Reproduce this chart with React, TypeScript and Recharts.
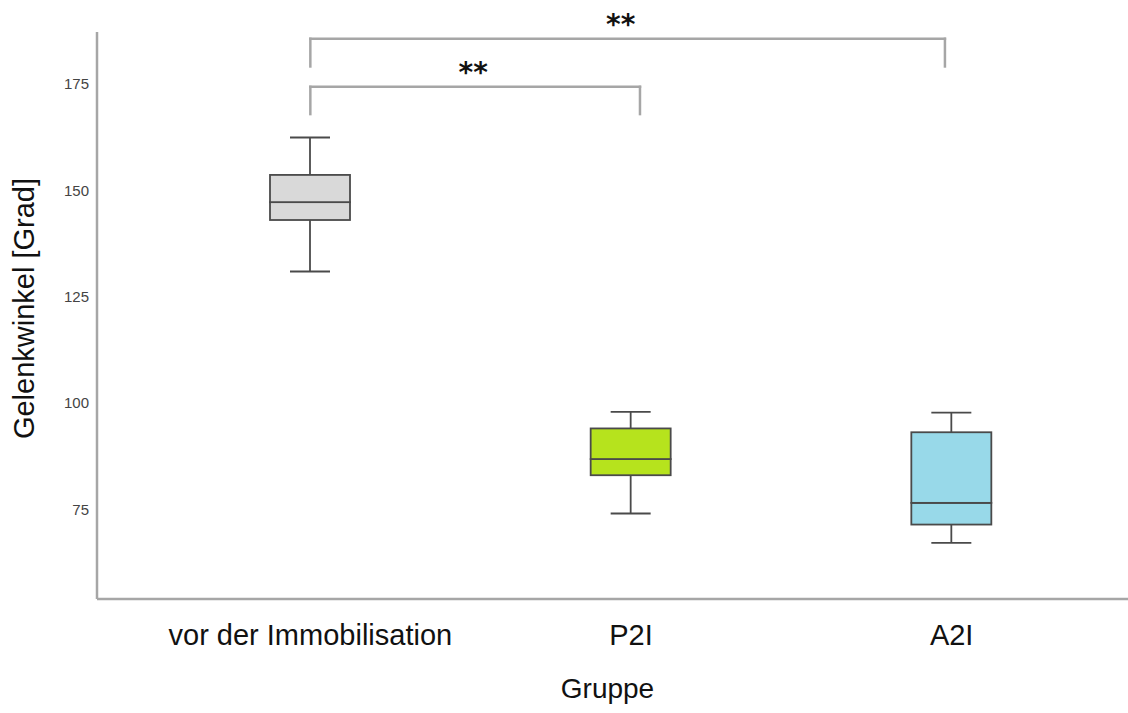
import { Bar, ComposedChart, ReferenceLine, XAxis, YAxis } from "recharts";

const groups = ["vor der Immobilisation", "P2I", "A2I"];
const minimum = [130.9, 74.0, 67.1];
const lowerQuartile = [143.0, 83.0, 71.4];
const median = [147.2, 86.8, 76.5];
const upperQuartile = [153.6, 94.0, 93.1];
const maximum = [162.4, 97.9, 97.7];
const yTicks = [75, 100, 125, 150, 175];

const fills = ["#d9d9d9", "#b6e31d", "#98d9e9"];

// significance brackets, x in group index units, y in degrees
const brackets = [
  { from: 0, to: 1.979, top: 185.6, foot: 179.1, text: "**", dx: -7 },
  { from: 0, to: 1.028, top: 174.3, foot: 167.9, text: "**", dx: -2 },
];

const rows = groups.map((name, i) => ({
  name,
  idx: i,
  base: minimum[i],
  lowWhisker: lowerQuartile[i] - minimum[i],
  lowBox: median[i] - lowerQuartile[i],
  highBox: upperQuartile[i] - median[i],
  highWhisker: maximum[i] - upperQuartile[i],
  fill: fills[i],
}));

const ink = "#4a4a4a";
const grey = "#a6a6a6";
const font = "'Liberation Sans', Arial, sans-serif";

const whisker = (capAtTop: boolean) => (props: any) => {
  const { x, y, width, height } = props;
  const cx = x + width / 2;
  const capY = capAtTop ? y : y + height;
  return (
    <g stroke={ink} strokeWidth={1.8}>
      <line x1={cx} x2={cx} y1={y} y2={y + height} />
      <line x1={cx - 20} x2={cx + 20} y1={capY} y2={capY} />
    </g>
  );
};

const boxHalf = (props: any) => {
  const { x, y, width, height, payload } = props;
  return <rect x={x} y={y} width={width} height={height} fill={payload.fill} stroke={ink} strokeWidth={1.8} />;
};

export default function App() {
  return (
    <div style={{ position: "absolute", left: 0, top: 0 }}>
      <ComposedChart width={1128} height={713} data={rows} margin={{ top: 32, right: 0, bottom: 0, left: 0 }}>
        <XAxis
          dataKey="name"
          height={114}
          padding={{ left: 53, right: 16 }}
          axisLine={{ stroke: grey, strokeWidth: 2.5 }}
          tickLine={false}
          tickMargin={19}
          tick={{ fontSize: 29, fill: "#111", fontFamily: font }}
          label={{ value: "Gruppe", position: "insideBottom", offset: 15, dx: -5, fontSize: 28, fill: "#111", fontFamily: font }}
        />
        <XAxis xAxisId="pos" dataKey="idx" type="number" domain={[-0.6653, 2.5499]} allowDataOverflow hide />
        <YAxis
          width={97}
          domain={[53.9, 187.2]}
          allowDataOverflow
          ticks={yTicks}
          axisLine={{ stroke: grey, strokeWidth: 2.5 }}
          tickLine={false}
          tick={{ fontSize: 15, fill: "#444", fontFamily: font }}
          label={{ value: "Gelenkwinkel [Grad]", angle: -90, position: "center", dx: -25, dy: -7, fontSize: 29, fill: "#111", fontFamily: font }}
        />
        <Bar dataKey="base" stackId="box" barSize={80} shape={() => <g />} isAnimationActive={false} />
        <Bar dataKey="lowWhisker" stackId="box" barSize={80} shape={whisker(false)} isAnimationActive={false} />
        <Bar dataKey="lowBox" stackId="box" barSize={80} shape={boxHalf} isAnimationActive={false} />
        <Bar dataKey="highBox" stackId="box" barSize={80} shape={boxHalf} isAnimationActive={false} />
        <Bar dataKey="highWhisker" stackId="box" barSize={80} shape={whisker(true)} isAnimationActive={false} />
        {brackets.map((b) => [
          <ReferenceLine
            key={b.top + "h"}
            xAxisId="pos"
            segment={[{ x: b.from, y: b.top }, { x: b.to, y: b.top }]}
            stroke={grey}
            strokeWidth={2.5}
            strokeLinecap="square"
            label={{ value: b.text, position: "top", offset: 5, dx: b.dx, fontSize: 28, fontWeight: "bold", fill: "#111", fontFamily: "'DejaVu Sans', sans-serif" }}
          />,
          <ReferenceLine
            key={b.top + "l"}
            xAxisId="pos"
            segment={[{ x: b.from, y: b.top }, { x: b.from, y: b.foot }]}
            stroke={grey}
            strokeWidth={2.5}
            strokeLinecap="square"
          />,
          <ReferenceLine
            key={b.top + "r"}
            xAxisId="pos"
            segment={[{ x: b.to, y: b.top }, { x: b.to, y: b.foot }]}
            stroke={grey}
            strokeWidth={2.5}
            strokeLinecap="square"
          />,
        ])}
      </ComposedChart>
    </div>
  );
}
